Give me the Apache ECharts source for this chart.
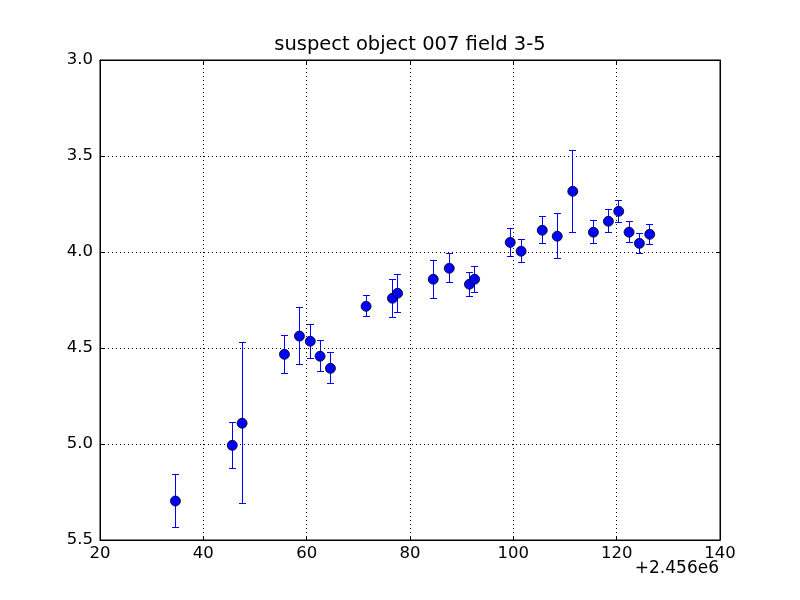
<!DOCTYPE html>
<html>
<head>
<meta charset="utf-8">
<script src="https://cdn.jsdelivr.net/npm/echarts@6/dist/echarts.min.js"></script>
<style>html,body{margin:0;padding:0;background:#fff}#c{width:800px;height:600px}</style>
</head>
<body>
<div id="c"></div>
<script>
var titleText = 'suspect object 007 field 3-5';
var offsetText = '+2.456e6';
var jd  = [34.6, 45.6, 47.5, 55.7, 58.6, 60.7, 62.6, 64.6, 71.5, 76.6, 77.6, 84.5, 87.6, 91.5, 92.5, 99.4, 101.5, 105.6, 108.5, 111.5, 115.5, 118.4, 120.4, 122.4, 124.4, 126.4];
var mag = [5.297, 5.007, 4.892, 4.533, 4.438, 4.465, 4.543, 4.606, 4.283, 4.241, 4.215, 4.142, 4.085, 4.168, 4.142, 3.950, 3.996, 3.887, 3.918, 3.684, 3.897, 3.840, 3.788, 3.897, 3.955, 3.908];
var err = [0.14, 0.12, 0.42, 0.10, 0.15, 0.09, 0.08, 0.08, 0.055, 0.10, 0.098, 0.10, 0.075, 0.063, 0.067, 0.075, 0.06, 0.07, 0.117, 0.213, 0.06, 0.06, 0.056, 0.055, 0.052, 0.052];

var pts = jd.map(function(x, i){ return [x, mag[i]]; });
var bars = jd.map(function(x, i){ return [x, mag[i] - err[i], mag[i] + err[i]]; });

var FONT = 'DejaVu Sans';
var chart = echarts.init(document.getElementById('c'), null, {renderer: 'canvas'});
var gridLine = {show: true, lineStyle: {color: '#000', type: [1, 3], width: 1}};
var xBase = {type: 'value', min: 20, max: 140, interval: 20};
var yBase = {type: 'value', min: 3, max: 5.5, interval: 0.5, inverse: true};
function crisp(v){ return Math.round(v - 0.5) + 0.5; }
chart.setOption({
  animation: false,
  graphic: [
    {type: 'text', x: 410, y: 35, z: 10,
      style: {text: titleText, fill: '#000', font: '19.5px "DejaVu Sans"', textAlign: 'center', textVerticalAlign: 'top'}},
    {type: 'text', right: 81, top: 560,
      style: {text: offsetText, fill: '#000', font: '17px "DejaVu Sans"', textAlign: 'right'}}
  ],
  grid: {left: 100, right: 80, top: 60, bottom: 60, show: true, borderColor: '#000', borderWidth: 1},
  xAxis: [
    Object.assign({}, xBase, {position: 'bottom',
      axisLine: {show: true, lineStyle: {color: '#000'}},
      axisTick: {show: true, inside: true, length: 4, lineStyle: {color: '#000'}},
      axisLabel: {color: '#000', fontFamily: FONT, fontSize: 16.5, margin: 5},
      splitLine: gridLine}),
    Object.assign({}, xBase, {position: 'top',
      axisLine: {show: true, lineStyle: {color: '#000'}},
      axisTick: {show: true, inside: true, length: 4, lineStyle: {color: '#000'}},
      axisLabel: {show: false}, splitLine: {show: false}})
  ],
  yAxis: [
    Object.assign({}, yBase, {position: 'left',
      axisLine: {show: true, lineStyle: {color: '#000'}},
      axisTick: {show: true, inside: true, length: 4, lineStyle: {color: '#000'}},
      axisLabel: {color: '#000', fontFamily: FONT, fontSize: 16.5, margin: 7,
        formatter: function(v){ return v.toFixed(1); }},
      splitLine: gridLine}),
    Object.assign({}, yBase, {position: 'right',
      axisLine: {show: true, lineStyle: {color: '#000'}},
      axisTick: {show: true, inside: true, length: 4, lineStyle: {color: '#000'}},
      axisLabel: {show: false}, splitLine: {show: false}})
  ],
  series: [
    {type: 'custom', z: 2, data: bars,
      renderItem: function(params, api){
        var x = api.value(0);
        var top = api.coord([x, api.value(1)]);
        var bot = api.coord([x, api.value(2)]);
        var cx = crisp(top[0]), ty = crisp(top[1]), by = crisp(bot[1]);
        var cw = 3.5;
        var st = {stroke: '#0000ff', lineWidth: 1, fill: null};
        return {type: 'group', children: [
          {type: 'line', shape: {x1: cx, y1: ty, x2: cx, y2: by}, style: st},
          {type: 'line', shape: {x1: cx-cw, y1: ty, x2: cx+cw, y2: ty}, style: st},
          {type: 'line', shape: {x1: cx-cw, y1: by, x2: cx+cw, y2: by}, style: st}
        ]};
      }},
    {type: 'scatter', z: 3, data: pts, symbol: 'circle', symbolSize: 10,
      itemStyle: {color: '#0000ff', borderColor: '#000', borderWidth: 0.8, opacity: 1}}
  ]
});
</script>
</body>
</html>
